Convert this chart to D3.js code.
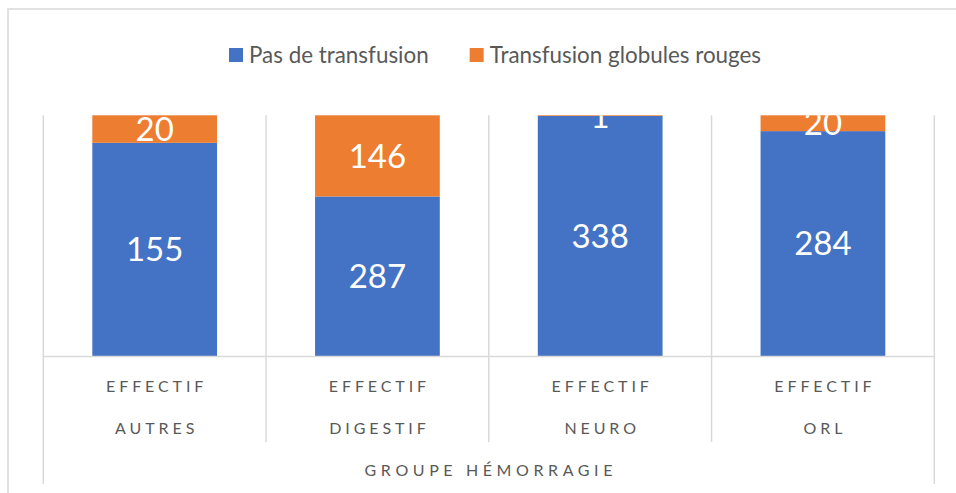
<!DOCTYPE html>
<html>
<head>
<meta charset="utf-8">
<script src="https://cdn.jsdelivr.net/npm/d3@7"></script>
<style>
  body { margin: 0; background: #fff; }
  text { font-family: Lato, "Open Sans", sans-serif; }
</style>
</head>
<body>
<svg width="956" height="493"></svg>
<script>
// data
var groups = ['AUTRES', 'DIGESTIF', 'NEURO', 'ORL'];
var level1 = 'EFFECTIF';
var axisTitle = 'GROUPE HÉMORRAGIE';
var seriesNames = ['Pas de transfusion', 'Transfusion globules rouges'];
var pasTransfusion = [155, 287, 338, 284];
var transfusionGR = [20, 146, 1, 20];
var colors = ['#4472C4', '#ED7D31'];

var svg = d3.select('svg');
var plot = {l: 43.3, r: 934.3, t: 115.3, b: 356};
var grey = '#595959', gridC = '#d9d9d9';

// chart frame (bleeds off right/bottom)
svg.append('rect')
    .attr('x', 8).attr('y', 9)
    .attr('width', 1000).attr('height', 1000)
    .attr('fill', 'none').attr('stroke', gridC).attr('stroke-width', 1.5);

var xScale = d3.scaleBand().domain(groups)
    .range([plot.l, plot.r])
    .paddingInner(0.44).paddingOuter(0.22);
var step = xScale.step();
var yScale = d3.scaleLinear().domain([0, 1]).range([plot.b, plot.t]);

// 100% stacked rows
var rows = groups.map(function(g, i) {
    var tot = pasTransfusion[i] + transfusionGR[i];
    return {group: g, s0: pasTransfusion[i] / tot, s1: transfusionGR[i] / tot,
            v0: pasTransfusion[i], v1: transfusionGR[i]};
});
var stack = d3.stack().keys(['s0', 's1'])(rows);

// vertical gridlines at category edges
var edges = d3.range(groups.length + 1).map(function(i) { return plot.l + i * step; });
svg.append('g').selectAll('line').data(edges).enter().append('line')
    .attr('x1', function(d) { return d; }).attr('x2', function(d) { return d; })
    .attr('y1', plot.t).attr('y2', plot.b)
    .attr('stroke', gridC).attr('stroke-width', 1.5);

svg.append('clipPath').attr('id', 'plotClip').append('rect')
    .attr('x', plot.l).attr('y', plot.t)
    .attr('width', plot.r - plot.l).attr('height', plot.b - plot.t);

var layers = svg.append('g').selectAll('g').data(stack).enter().append('g')
    .attr('fill', function(d, i) { return colors[i]; });
layers.selectAll('rect').data(function(d) { return d; }).enter().append('rect')
    .attr('x', function(d) { return xScale(d.data.group); })
    .attr('width', xScale.bandwidth())
    .attr('y', function(d) { return yScale(d[1]); })
    .attr('height', function(d) { return yScale(d[0]) - yScale(d[1]); });

// value labels
var labG = svg.append('g').attr('clip-path', 'url(#plotClip)');
stack.forEach(function(layer, k) {
    labG.selectAll('.lab' + k).data(layer).enter().append('text')
        .attr('class', 'lab' + k)
        .attr('x', function(d) { return xScale(d.data.group) + xScale.bandwidth() / 2; })
        .attr('y', function(d) { return (yScale(d[0]) + yScale(d[1])) / 2; })
        .attr('dy', '0.36em')
        .attr('text-anchor', 'middle')
        .attr('fill', '#fff')
        .attr('font-size', 33)
        .text(function(d) { return k === 0 ? d.data.v0 : d.data.v1; });
});

// baseline
svg.append('line')
    .attr('x1', plot.l).attr('x2', plot.r)
    .attr('y1', plot.b + 0.5).attr('y2', plot.b + 0.5)
    .attr('stroke', gridC).attr('stroke-width', 1.5);

// multi-level category axis
var inner = edges.slice(1, -1);
svg.append('g').selectAll('line').data(inner).enter().append('line')
    .attr('x1', function(d) { return d; }).attr('x2', function(d) { return d; })
    .attr('y1', plot.b).attr('y2', 442)
    .attr('stroke', gridC).attr('stroke-width', 1.5);
svg.append('g').selectAll('line').data([plot.l, plot.r]).enter().append('line')
    .attr('x1', function(d) { return d; }).attr('x2', function(d) { return d; })
    .attr('y1', plot.b).attr('y2', 484)
    .attr('stroke', gridC).attr('stroke-width', 1.5);

var axG = svg.append('g').attr('fill', grey).attr('font-size', 16)
    .attr('letter-spacing', '3.9px').attr('text-anchor', 'middle');
axG.selectAll('.l1').data(groups).enter().append('text')
    .attr('class', 'l1')
    .attr('x', function(d) { return xScale(d) + xScale.bandwidth() / 2 + 2; })
    .attr('y', 392)
    .text(level1);
axG.selectAll('.l2').data(groups).enter().append('text')
    .attr('class', 'l2')
    .attr('x', function(d) { return xScale(d) + xScale.bandwidth() / 2 + 2; })
    .attr('y', 434)
    .text(function(d) { return d; });
axG.append('text')
    .attr('x', (plot.l + plot.r) / 2 + 2)
    .attr('y', 476)
    .attr('letter-spacing', '4.6px')
    .text(axisTitle);

// legend
var legend = svg.append('g');
var items = legend.selectAll('g').data(seriesNames).enter().append('g');
items.append('rect')
    .attr('width', 14).attr('height', 14).attr('y', 48)
    .attr('fill', function(d, i) { return colors[i]; });
items.append('text')
    .attr('x', 20).attr('y', 63)
    .attr('font-size', 22.4).attr('fill', grey)
    .text(function(d) { return d; });
var xPos = 229;
items.each(function() {
    var g = d3.select(this);
    g.attr('transform', 'translate(' + xPos + ',0)');
    xPos += 20 + g.select('text').node().getComputedTextLength() + 41;
});
</script>
</body>
</html>
